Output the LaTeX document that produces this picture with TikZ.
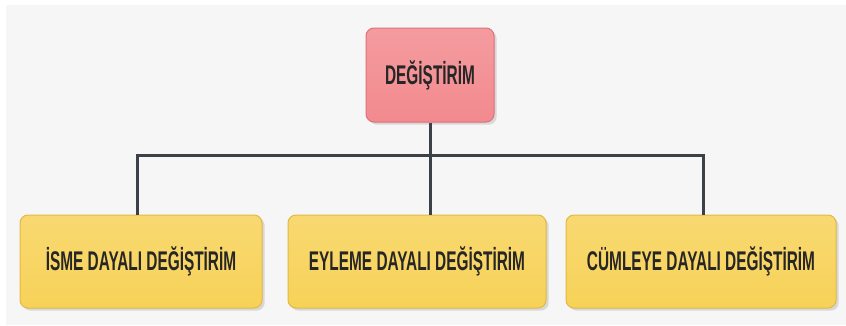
\documentclass[tikz,border=0pt]{standalone}
\usepackage{fontspec}
\setmainfont{Liberation Sans}[FakeStretch=0.57]
\usetikzlibrary{shadows}
\definecolor{bgGray}{HTML}{F6F6F6}
\definecolor{rootFill}{HTML}{F28A8E}
\definecolor{rootLine}{HTML}{E0707A}
\definecolor{leafFill}{HTML}{F7D258}
\definecolor{leafLine}{HTML}{E2B845}
\definecolor{barGray}{HTML}{3C4048}
\tikzset{
  rootbox/.style={draw=rootLine, line width=1pt, top color=rootFill!85, bottom color=rootFill,
    rounded corners=8pt, minimum width=128pt, minimum height=94pt,
    font=\bfseries\fontsize{27}{29}\selectfont, text=black!85, drop shadow={opacity=0.25}},
  leafbox/.style={draw=leafLine, line width=1pt, top color=leafFill!85, bottom color=leafFill,
    rounded corners=8pt, minimum height=93pt,
    font=\bfseries\fontsize{27}{29}\selectfont, text=black!85, drop shadow={opacity=0.25}},
  branch/.style={draw=barGray, line width=3pt}
}
\begin{document}
\begin{tikzpicture}[x=1pt, y=-1pt]
  \useasboundingbox (0,0) rectangle (846,325);
  \fill[bgGray] (6,5) rectangle (846,325);

  %%%%% BOXES %%%%%
  \node[rootbox] (root) at (430,75) {DEĞİŞTİRİM};
  \node[leafbox, minimum width=242pt] (isim) at (141,261.5) {İSME DAYALI DEĞİŞTİRİM};
  \node[leafbox, minimum width=258pt] (eylem) at (417,261.5) {EYLEME DAYALI DEĞİŞTİRİM};
  \node[leafbox, minimum width=270pt] (cumle) at (701,261.5) {CÜMLEYE DAYALI DEĞİŞTİRİM};

  %%%%% BRANCHES %%%%%
  \coordinate (bar) at (430,155);
  \draw[branch] (root.south) -- (bar);
  \draw[branch] (isim.north -| 137,0) |- (bar) -| (cumle.north -| 703,0);
  \draw[branch] (bar) -- (bar |- eylem.north);
\end{tikzpicture}
\end{document}
